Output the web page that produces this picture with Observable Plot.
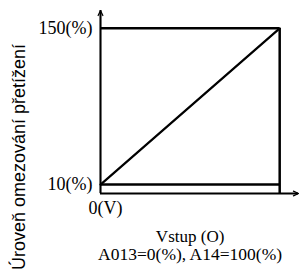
<!DOCTYPE html>
<html><head><meta charset="utf-8">
<script src="https://cdn.jsdelivr.net/npm/d3@7"></script>
<script src="https://cdn.jsdelivr.net/npm/@observablehq/plot@0.6"></script>
<style>body{margin:0;background:#fff}</style>
</head><body><div id="chart"></div>
<script>
// Data
const inputPercent = [0, 100];          // input O: A013 .. A14
const levelPercent = [10, 150];         // overload limit level
const yTicks = [10, 150];
const yTickLabels = ["10(%)", "150(%)"];
const xTicks = [0];
const xTickLabels = ["0(V)"];
const yLabel = "Úroveň omezování přetížení";
const xLabel = "Vstup (O)";
const xNote = "A013=0(%), A14=100(%)";
// axis extents (scale domains, the axes run past the data box)
const xDomain = [0, 110.5];
const yDomain = [2, 166];

const line = inputPercent.map((x, i) => ({x, y: levelPercent[i]}));
const xMax = d3.max(inputPercent);
const xMid = d3.mean(inputPercent);

const serif = "'Liberation Serif', 'Times New Roman', serif";
const chart = Plot.plot({
  width: 299, height: 274,
  marginLeft: 100, marginRight: 1, marginTop: 10, marginBottom: 81,
  x: {domain: xDomain},
  y: {domain: yDomain},
  style: {fontFamily: serif, fontSize: "18px", color: "#000", background: "#fff"},
  marks: [
    // axes with arrows
    Plot.ruleX([inputPercent[0]], {y1: yDomain[0], y2: yDomain[1], stroke: "#000", strokeWidth: 2}),
    Plot.ruleY([yDomain[0]], {x1: xDomain[0], x2: xDomain[1], stroke: "#000", strokeWidth: 2}),
    Plot.arrow([0], {x1: inputPercent[0], x2: inputPercent[0], y1: yDomain[0], y2: yDomain[1], stroke: "#000", strokeWidth: 1.2, headLength: 7, headAngle: 50}),
    Plot.arrow([0], {x1: xDomain[0], x2: xDomain[1], y1: yDomain[0], y2: yDomain[0], stroke: "#000", strokeWidth: 1.2, headLength: 7, headAngle: 50}),
    // level lines
    Plot.ruleY(levelPercent, {x1: inputPercent[0], x2: xMax, y: d => d, stroke: "#000", strokeWidth: 2.5}),
    Plot.ruleX([xMax], {y1: yDomain[0], y2: d3.max(levelPercent), stroke: "#000", strokeWidth: 2.5}),
    Plot.line(line, {x: "x", y: "y", stroke: "#000", strokeWidth: 2.2}),
    // tick labels
    Plot.axisY(yTicks, {tickSize: 0, tickPadding: 8, label: null, tickFormat: d => yTickLabels[yTicks.indexOf(d)], fontSize: 18}),
    Plot.axisX(xTicks, {tickSize: 0, tickPadding: 8, dx: 5, label: null, tickFormat: d => xTickLabels[xTicks.indexOf(d)], fontSize: 18}),
    // titles
    Plot.text([xLabel], {x: xMid, frameAnchor: "bottom", lineAnchor: "middle", dy: 43, text: d => d, fontSize: 17, fontFamily: serif}),
    Plot.text([xNote], {x: xMid, frameAnchor: "bottom", lineAnchor: "middle", dy: 61, text: d => d, fontSize: 17.5, fontFamily: serif}),
    Plot.text([yLabel], {frameAnchor: "left", textAnchor: "middle", lineAnchor: "middle", dx: -81, dy: 55, rotate: -90, text: d => d, fontSize: 18, fontFamily: "'Liberation Sans', Arial, sans-serif"})
  ]
});
document.getElementById("chart").appendChild(chart);
</script>
</body></html>
